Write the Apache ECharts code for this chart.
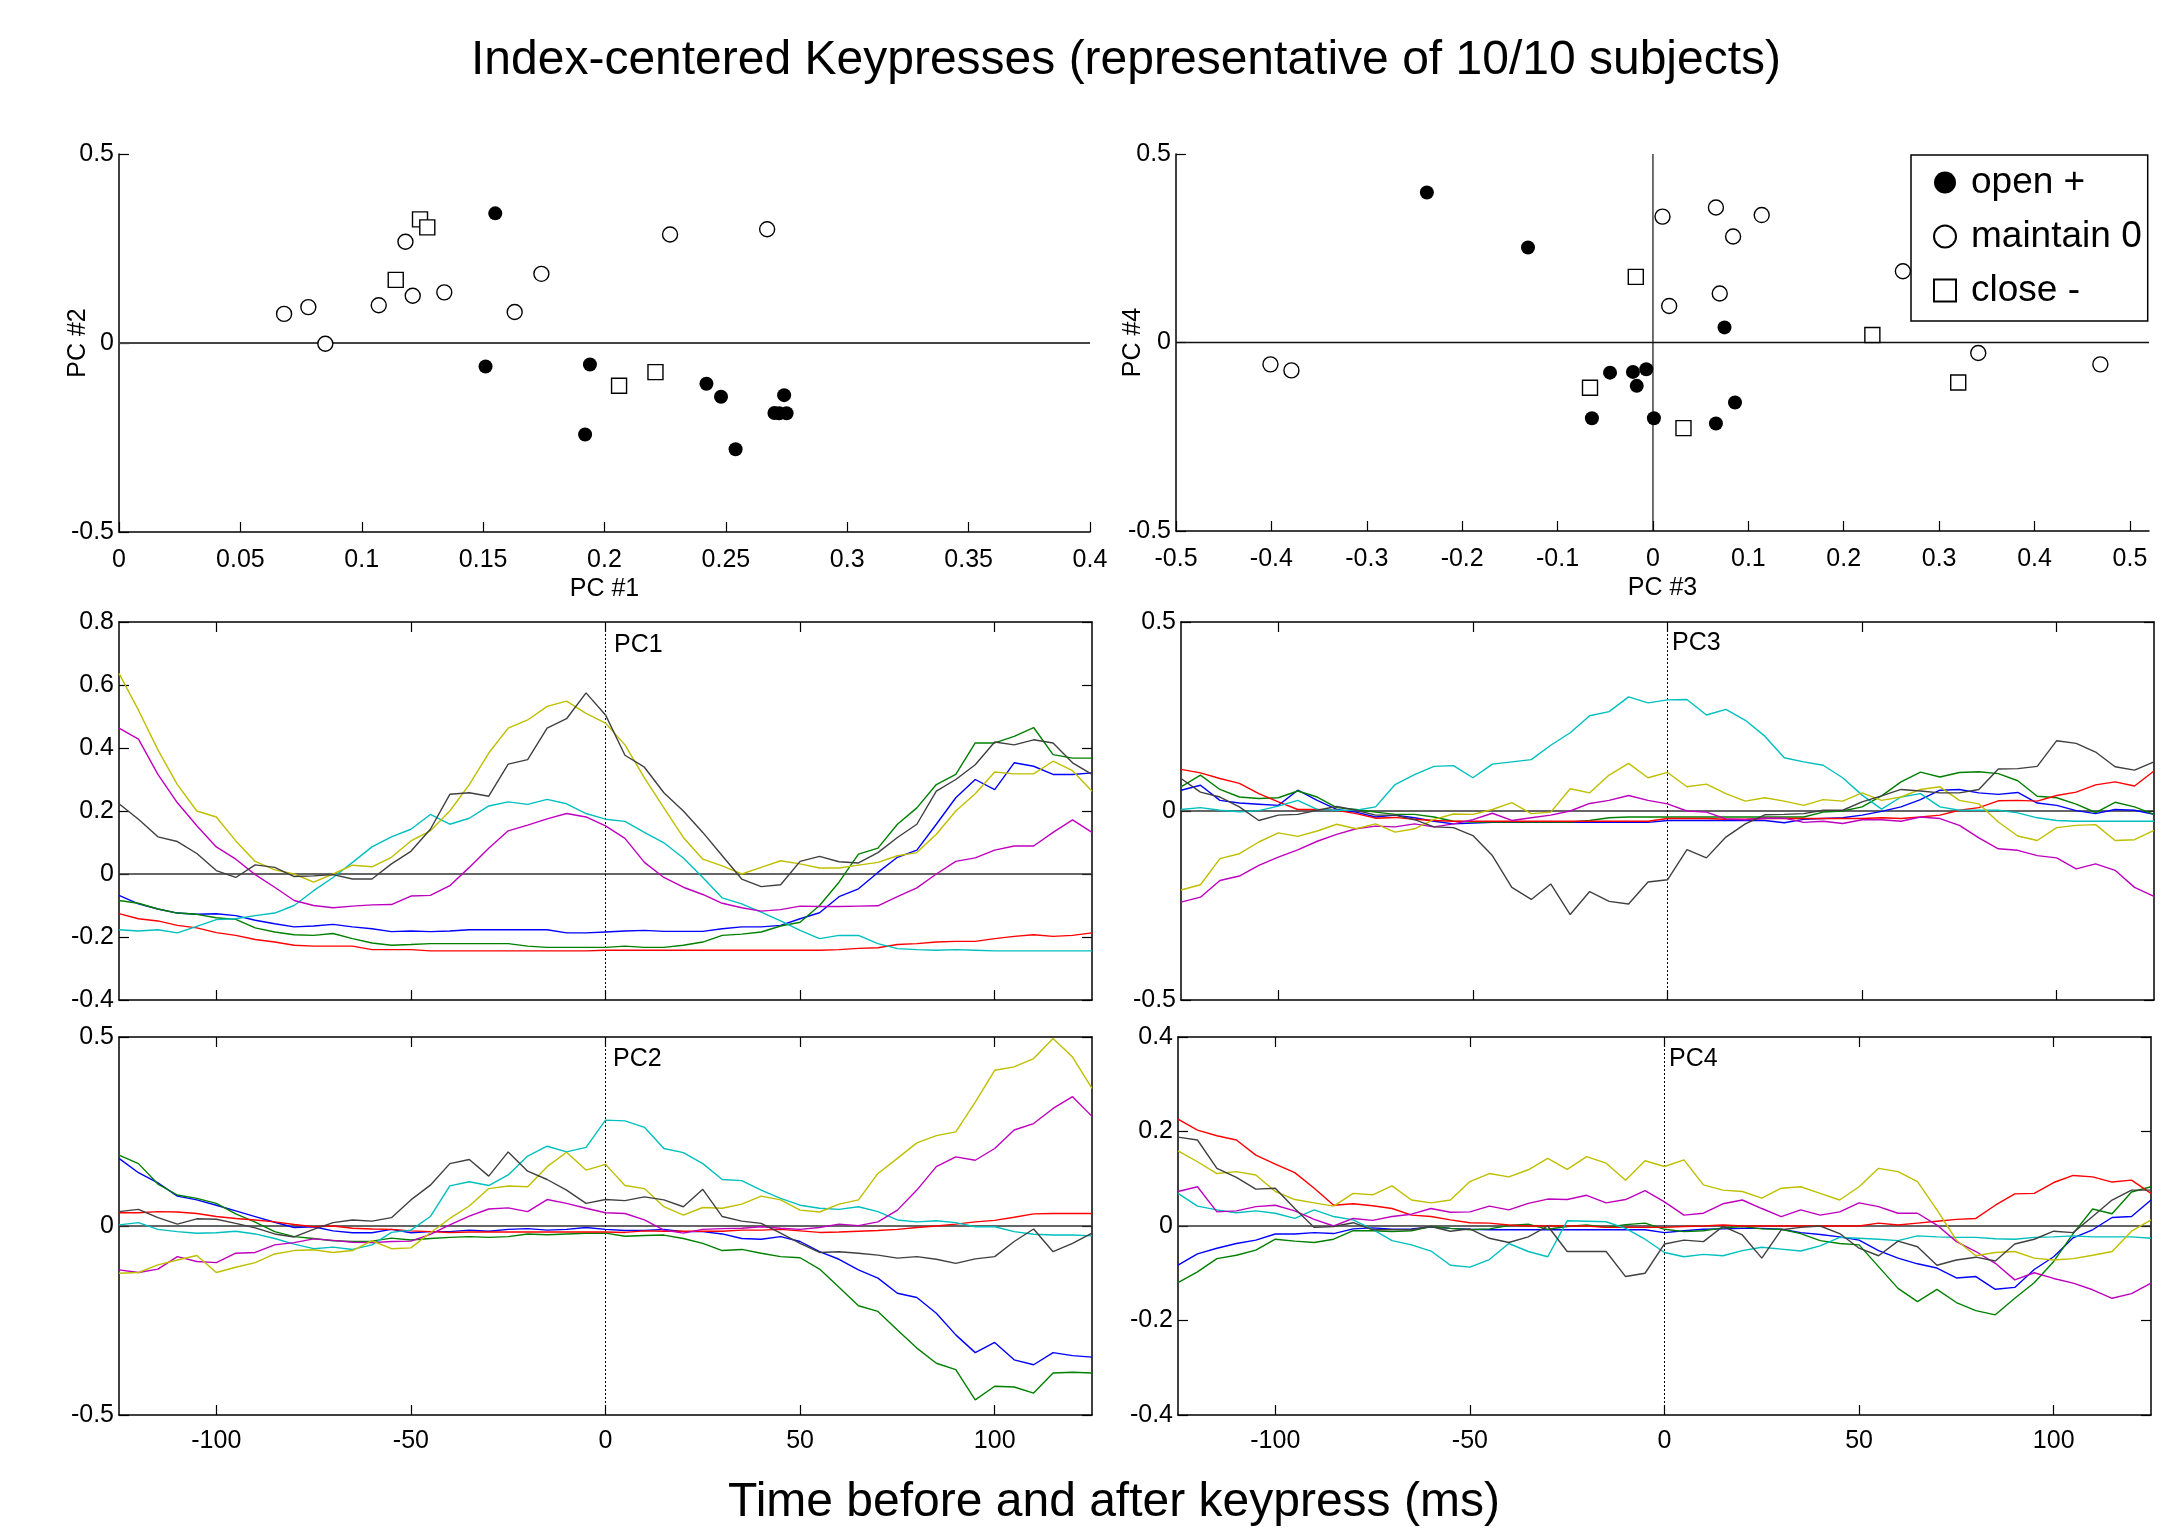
<!DOCTYPE html>
<html>
<head>
<meta charset="utf-8">
<title>Index-centered Keypresses</title>
<script src="https://cdn.jsdelivr.net/npm/echarts@6.0.0/dist/echarts.min.js"></script>
<style>
  html, body { margin: 0; padding: 0; background: #fff; }
  #chart { width: 2174px; height: 1530px; }
</style>
</head>
<body>
<div id="chart"></div>
<script>
const FONT = 'Liberation Sans, Arial, Helvetica, sans-serif';

// scatter: PC #1 vs PC #2
const openPc12 = [[0.155, 0.343], [0.151, -0.062], [0.194, -0.057], [0.192, -0.242], [0.242, -0.108], [0.248, -0.142], [0.274, -0.138], [0.270, -0.185], [0.272, -0.186], [0.275, -0.186], [0.254, -0.281]];
const maintainPc12 = [[0.068, 0.077], [0.078, 0.095], [0.085, -0.002], [0.107, 0.100], [0.118, 0.268], [0.121, 0.125], [0.134, 0.134], [0.163, 0.082], [0.174, 0.183], [0.227, 0.287], [0.267, 0.301]];
const closePc12 = [[0.124, 0.327], [0.127, 0.306], [0.114, 0.167], [0.206, -0.113], [0.221, -0.077]];

// scatter: PC #3 vs PC #4
const openPc34 = [[-0.237, 0.398], [-0.131, 0.252], [0.075, 0.040], [-0.045, -0.080], [-0.021, -0.078], [-0.007, -0.071], [-0.017, -0.115], [-0.064, -0.201], [0.001, -0.201], [0.066, -0.215], [0.086, -0.159]];
const maintainPc34 = [[-0.401, -0.058], [-0.379, -0.074], [0.010, 0.334], [0.066, 0.358], [0.114, 0.338], [0.084, 0.281], [0.070, 0.130], [0.017, 0.097], [0.262, 0.189], [0.341, -0.028], [0.469, -0.058]];
const closePc34 = [[-0.018, 0.174], [0.230, 0.020], [-0.066, -0.120], [0.032, -0.227], [0.320, -0.106]];

// time (ms) for the component traces
const timeMs = [-125, -120, -115, -110, -105, -100, -95, -90, -85, -80, -75, -70, -65, -60, -55, -50, -45, -40, -35, -30, -25, -20, -15, -10, -5, 0, 5, 10, 15, 20, 25, 30, 35, 40, 45, 50, 55, 60, 65, 70, 75, 80, 85, 90, 95, 100, 105, 110, 115, 120, 125];
const timeTicks = [-100, -50, 0, 50, 100];
const pc3Ticks = [-0.5, -0.4, -0.3, -0.2, -0.1, 0, 0.1, 0.2, 0.3, 0.4, 0.5];

const pc1Blue = [-0.068, -0.095, -0.111, -0.124, -0.128, -0.126, -0.132, -0.147, -0.158, -0.168, -0.165, -0.16, -0.168, -0.174, -0.183, -0.181, -0.183, -0.181, -0.177, -0.177, -0.177, -0.177, -0.177, -0.187, -0.187, -0.184, -0.181, -0.179, -0.182, -0.182, -0.182, -0.174, -0.168, -0.168, -0.163, -0.142, -0.123, -0.072, -0.047, 0.005, 0.053, 0.076, 0.158, 0.242, 0.3, 0.268, 0.353, 0.342, 0.316, 0.316, 0.321];
const pc1Green = [-0.084, -0.093, -0.111, -0.124, -0.128, -0.139, -0.144, -0.171, -0.184, -0.193, -0.195, -0.189, -0.205, -0.219, -0.226, -0.224, -0.221, -0.221, -0.221, -0.221, -0.221, -0.229, -0.233, -0.233, -0.233, -0.233, -0.229, -0.233, -0.233, -0.226, -0.216, -0.195, -0.191, -0.184, -0.165, -0.153, -0.1, -0.026, 0.063, 0.082, 0.158, 0.21, 0.284, 0.316, 0.416, 0.416, 0.437, 0.465, 0.379, 0.368, 0.368];
const pc1Red = [-0.126, -0.142, -0.149, -0.163, -0.171, -0.186, -0.195, -0.208, -0.216, -0.226, -0.229, -0.229, -0.229, -0.24, -0.24, -0.24, -0.244, -0.244, -0.244, -0.244, -0.244, -0.244, -0.244, -0.244, -0.244, -0.242, -0.242, -0.242, -0.242, -0.242, -0.242, -0.242, -0.242, -0.242, -0.242, -0.242, -0.242, -0.24, -0.236, -0.234, -0.224, -0.221, -0.216, -0.214, -0.214, -0.205, -0.198, -0.193, -0.198, -0.195, -0.187];
const pc1Cyan = [-0.177, -0.181, -0.177, -0.187, -0.166, -0.145, -0.142, -0.132, -0.124, -0.1, -0.053, -0.011, 0.037, 0.086, 0.118, 0.142, 0.189, 0.158, 0.177, 0.216, 0.229, 0.221, 0.237, 0.223, 0.192, 0.174, 0.167, 0.132, 0.099, 0.051, -0.011, -0.076, -0.095, -0.121, -0.149, -0.179, -0.205, -0.195, -0.195, -0.221, -0.237, -0.24, -0.242, -0.24, -0.242, -0.244, -0.244, -0.244, -0.244, -0.244, -0.244];
const pc1Magenta = [0.463, 0.428, 0.316, 0.226, 0.153, 0.086, 0.047, -0.002, -0.042, -0.084, -0.1, -0.107, -0.102, -0.098, -0.097, -0.07, -0.068, -0.037, 0.021, 0.082, 0.137, 0.155, 0.175, 0.192, 0.181, 0.153, 0.113, 0.037, -0.011, -0.042, -0.065, -0.093, -0.107, -0.118, -0.113, -0.102, -0.103, -0.103, -0.102, -0.101, -0.072, -0.044, 0.0, 0.04, 0.051, 0.076, 0.089, 0.089, 0.132, 0.172, 0.132];
const pc1Yellow = [0.637, 0.52, 0.394, 0.284, 0.2, 0.181, 0.105, 0.04, 0.013, 0.0, -0.026, 0.0, 0.028, 0.023, 0.053, 0.105, 0.137, 0.2, 0.284, 0.384, 0.463, 0.489, 0.532, 0.549, 0.51, 0.479, 0.41, 0.305, 0.21, 0.116, 0.047, 0.026, 0.0, 0.021, 0.042, 0.032, 0.019, 0.019, 0.028, 0.037, 0.058, 0.068, 0.126, 0.2, 0.255, 0.324, 0.318, 0.318, 0.358, 0.328, 0.263];
const pc1Black = [0.223, 0.174, 0.118, 0.103, 0.065, 0.011, -0.011, 0.029, 0.021, -0.008, -0.006, -0.002, -0.016, -0.016, 0.032, 0.072, 0.142, 0.253, 0.258, 0.247, 0.349, 0.363, 0.463, 0.493, 0.575, 0.505, 0.377, 0.339, 0.258, 0.2, 0.132, 0.058, -0.016, -0.04, -0.034, 0.04, 0.056, 0.039, 0.035, 0.068, 0.116, 0.158, 0.263, 0.3, 0.347, 0.419, 0.41, 0.426, 0.416, 0.353, 0.316];

const pc2Blue = [0.179, 0.141, 0.114, 0.079, 0.069, 0.055, 0.04, 0.025, 0.01, -0.004, -0.002, -0.013, -0.018, -0.018, -0.009, -0.018, -0.015, -0.015, -0.011, -0.014, -0.009, -0.007, -0.011, -0.009, -0.004, -0.009, -0.012, -0.012, -0.009, -0.015, -0.015, -0.021, -0.033, -0.035, -0.028, -0.041, -0.068, -0.088, -0.116, -0.138, -0.178, -0.189, -0.231, -0.288, -0.335, -0.308, -0.354, -0.367, -0.335, -0.343, -0.347];
const pc2Green = [0.1875, 0.165, 0.111, 0.082, 0.073, 0.06, 0.032, 0.01, -0.015, -0.028, -0.033, -0.039, -0.041, -0.04, -0.032, -0.037, -0.033, -0.03, -0.028, -0.03, -0.028, -0.021, -0.023, -0.021, -0.019, -0.019, -0.027, -0.025, -0.024, -0.033, -0.046, -0.065, -0.062, -0.072, -0.081, -0.084, -0.114, -0.162, -0.211, -0.226, -0.275, -0.323, -0.363, -0.38, -0.46, -0.424, -0.426, -0.442, -0.389, -0.387, -0.389];
const pc2Red = [0.035, 0.035, 0.038, 0.037, 0.033, 0.025, 0.02, 0.016, 0.011, 0.004, -0.002, 0.0, -0.006, -0.008, -0.009, -0.013, -0.015, -0.017, -0.016, -0.016, -0.016, -0.016, -0.016, -0.016, -0.016, -0.016, -0.017, -0.013, -0.014, -0.014, -0.014, -0.014, -0.011, -0.011, -0.009, -0.013, -0.017, -0.016, -0.014, -0.012, -0.009, -0.004, 0.0, 0.005, 0.011, 0.015, 0.023, 0.032, 0.033, 0.033, 0.033];
const pc2Cyan = [0.003, 0.009, -0.009, -0.015, -0.019, -0.018, -0.014, -0.021, -0.033, -0.048, -0.06, -0.056, -0.062, -0.05, -0.017, -0.011, 0.025, 0.106, 0.117, 0.107, 0.135, 0.185, 0.211, 0.196, 0.208, 0.28, 0.278, 0.261, 0.205, 0.194, 0.165, 0.123, 0.12, 0.095, 0.073, 0.055, 0.047, 0.044, 0.051, 0.038, 0.016, 0.011, 0.014, 0.009, -0.002, -0.002, -0.015, -0.022, -0.024, -0.024, -0.026];
const pc2Magenta = [-0.116, -0.123, -0.114, -0.081, -0.094, -0.097, -0.072, -0.07, -0.05, -0.044, -0.034, -0.038, -0.043, -0.044, -0.041, -0.04, -0.022, 0.003, 0.026, 0.045, 0.048, 0.038, 0.07, 0.06, 0.047, 0.035, 0.033, 0.016, -0.011, -0.019, -0.009, -0.007, -0.006, -0.002, -0.006, -0.009, -0.004, 0.005, 0.001, 0.011, 0.042, 0.095, 0.157, 0.183, 0.174, 0.205, 0.254, 0.271, 0.311, 0.342, 0.29];
const pc2Yellow = [-0.125, -0.123, -0.103, -0.09, -0.078, -0.123, -0.109, -0.097, -0.074, -0.065, -0.063, -0.07, -0.065, -0.039, -0.06, -0.058, -0.018, 0.02, 0.053, 0.099, 0.106, 0.104, 0.157, 0.195, 0.148, 0.163, 0.107, 0.099, 0.051, 0.029, 0.049, 0.047, 0.058, 0.079, 0.069, 0.042, 0.037, 0.058, 0.069, 0.139, 0.179, 0.22, 0.239, 0.249, 0.328, 0.412, 0.421, 0.443, 0.496, 0.447, 0.364];
const pc2Black = [0.038, 0.044, 0.022, 0.005, 0.019, 0.018, 0.007, -0.005, -0.021, -0.029, -0.009, 0.009, 0.016, 0.013, 0.022, 0.069, 0.108, 0.165, 0.176, 0.132, 0.196, 0.145, 0.123, 0.095, 0.06, 0.07, 0.067, 0.077, 0.069, 0.051, 0.097, 0.025, 0.013, 0.007, -0.019, -0.046, -0.07, -0.068, -0.072, -0.077, -0.085, -0.081, -0.088, -0.099, -0.087, -0.081, -0.041, -0.008, -0.068, -0.046, -0.019];

const pc3Blue = [0.055, 0.068, 0.028, 0.021, 0.018, 0.015, 0.055, 0.028, 0.004, -0.003, -0.016, -0.011, -0.018, -0.027, -0.034, -0.032, -0.03, -0.03, -0.03, -0.03, -0.03, -0.03, -0.03, -0.03, -0.03, -0.025, -0.025, -0.025, -0.025, -0.025, -0.025, -0.031, -0.022, -0.02, -0.018, -0.011, -0.001, 0.011, 0.03, 0.055, 0.057, 0.048, 0.044, 0.049, 0.021, 0.015, 0.001, -0.007, 0.004, 0.002, -0.009];
const pc3Green = [0.064, 0.095, 0.057, 0.037, 0.033, 0.035, 0.053, 0.037, 0.009, 0.004, -0.003, -0.009, -0.009, -0.016, -0.027, -0.029, -0.029, -0.029, -0.029, -0.029, -0.029, -0.025, -0.018, -0.016, -0.016, -0.016, -0.016, -0.016, -0.016, -0.016, -0.016, -0.016, -0.016, -0.003, 0.0, 0.011, 0.04, 0.077, 0.103, 0.09, 0.102, 0.104, 0.099, 0.08, 0.039, 0.035, 0.018, -0.004, 0.023, 0.011, -0.009];
const pc3Red = [0.11, 0.101, 0.086, 0.073, 0.046, 0.024, 0.004, 0.004, 0.002, -0.007, -0.019, -0.017, -0.022, -0.025, -0.027, -0.027, -0.027, -0.027, -0.027, -0.027, -0.027, -0.027, -0.027, -0.027, -0.027, -0.02, -0.02, -0.02, -0.022, -0.022, -0.02, -0.02, -0.02, -0.02, -0.02, -0.02, -0.018, -0.02, -0.016, -0.011, 0.002, 0.009, 0.027, 0.028, 0.026, 0.041, 0.05, 0.069, 0.077, 0.066, 0.106];
const pc3Cyan = [0.004, 0.009, 0.002, -0.002, 0.001, 0.013, 0.028, 0.004, 0.002, 0.002, 0.011, 0.07, 0.096, 0.118, 0.12, 0.088, 0.124, 0.13, 0.136, 0.174, 0.207, 0.252, 0.263, 0.302, 0.286, 0.294, 0.295, 0.254, 0.269, 0.24, 0.198, 0.141, 0.13, 0.121, 0.088, 0.042, 0.005, 0.037, 0.046, 0.011, 0.002, 0.002, 0.002, -0.005, -0.018, -0.025, -0.027, -0.027, -0.027, -0.027, -0.027];
const pc3Magenta = [-0.241, -0.228, -0.184, -0.172, -0.144, -0.122, -0.103, -0.08, -0.062, -0.047, -0.04, -0.042, -0.034, -0.042, -0.034, -0.023, -0.006, -0.025, -0.018, -0.011, 0.0, 0.02, 0.028, 0.041, 0.028, 0.019, 0.0, -0.003, -0.021, -0.023, -0.019, -0.019, -0.03, -0.027, -0.033, -0.023, -0.023, -0.027, -0.016, -0.02, -0.038, -0.071, -0.1, -0.104, -0.118, -0.124, -0.153, -0.14, -0.157, -0.202, -0.226];
const pc3Yellow = [-0.209, -0.195, -0.126, -0.113, -0.082, -0.058, -0.067, -0.053, -0.035, -0.047, -0.034, -0.056, -0.047, -0.022, -0.008, -0.009, 0.004, 0.022, -0.007, -0.003, 0.059, 0.048, 0.095, 0.126, 0.088, 0.102, 0.064, 0.071, 0.046, 0.026, 0.035, 0.026, 0.015, 0.03, 0.026, 0.048, 0.028, 0.037, 0.057, 0.064, 0.028, 0.019, -0.029, -0.066, -0.078, -0.044, -0.038, -0.036, -0.078, -0.076, -0.051];
const pc3Black = [0.086, 0.05, 0.037, 0.011, -0.025, -0.011, -0.009, 0.002, 0.012, 0.002, -0.011, -0.011, -0.023, -0.042, -0.044, -0.065, -0.118, -0.202, -0.234, -0.193, -0.274, -0.213, -0.239, -0.246, -0.188, -0.182, -0.102, -0.124, -0.069, -0.034, -0.01, -0.009, -0.007, 0.002, 0.002, 0.024, 0.04, 0.057, 0.053, 0.048, 0.048, 0.057, 0.111, 0.112, 0.118, 0.186, 0.179, 0.156, 0.117, 0.108, 0.13];

const pc4Blue = [-0.083, -0.059, -0.047, -0.037, -0.03, -0.017, -0.017, -0.014, -0.016, -0.006, -0.004, -0.007, -0.006, -0.002, -0.005, -0.007, -0.008, -0.008, -0.008, -0.008, -0.008, -0.008, -0.008, -0.008, -0.008, -0.014, -0.01, -0.007, -0.006, -0.005, -0.005, -0.007, -0.014, -0.018, -0.023, -0.03, -0.052, -0.068, -0.08, -0.089, -0.11, -0.107, -0.134, -0.13, -0.092, -0.065, -0.025, -0.008, 0.018, 0.02, 0.055];
const pc4Green = [-0.12, -0.097, -0.069, -0.062, -0.051, -0.028, -0.032, -0.035, -0.028, -0.01, -0.01, -0.012, -0.01, -0.001, -0.005, -0.008, -0.006, 0.001, 0.004, -0.007, -0.001, 0.002, -0.003, 0.003, 0.006, -0.007, -0.012, -0.01, -0.004, -0.001, -0.006, -0.007, -0.016, -0.031, -0.037, -0.04, -0.086, -0.132, -0.16, -0.134, -0.162, -0.179, -0.188, -0.153, -0.12, -0.075, -0.016, 0.036, 0.026, 0.072, 0.083];
const pc4Red = [0.226, 0.203, 0.191, 0.182, 0.15, 0.131, 0.113, 0.08, 0.044, 0.047, 0.043, 0.037, 0.023, 0.02, 0.013, 0.007, 0.006, 0.002, 0.0, 0.0, 0.0, 0.0, -0.003, -0.003, -0.003, -0.003, -0.001, 0.0, 0.002, 0.0, 0.0, 0.0, 0.0, 0.0, 0.0, 0.0, 0.006, 0.002, 0.006, 0.01, 0.014, 0.016, 0.044, 0.068, 0.069, 0.092, 0.107, 0.104, 0.093, 0.097, 0.069];
const pc4Cyan = [0.069, 0.042, 0.034, 0.028, 0.032, 0.027, 0.016, 0.034, 0.02, 0.013, -0.007, -0.031, -0.04, -0.053, -0.083, -0.087, -0.071, -0.037, -0.054, -0.065, 0.011, 0.01, 0.009, -0.005, -0.028, -0.056, -0.065, -0.06, -0.063, -0.052, -0.045, -0.049, -0.053, -0.042, -0.024, -0.026, -0.028, -0.031, -0.021, -0.023, -0.024, -0.024, -0.027, -0.028, -0.024, -0.023, -0.021, -0.023, -0.023, -0.023, -0.026];
const pc4Magenta = [0.073, 0.083, 0.03, 0.032, 0.041, 0.044, 0.032, 0.014, 0.0, 0.016, 0.012, 0.02, 0.025, 0.037, 0.029, 0.03, 0.042, 0.034, 0.048, 0.057, 0.056, 0.065, 0.049, 0.056, 0.075, 0.051, 0.023, 0.027, 0.047, 0.055, 0.037, 0.02, 0.034, 0.023, 0.03, 0.049, 0.041, 0.027, 0.027, 0.002, -0.033, -0.054, -0.079, -0.114, -0.099, -0.111, -0.121, -0.135, -0.153, -0.143, -0.121];
const pc4Yellow = [0.159, 0.136, 0.111, 0.115, 0.108, 0.073, 0.056, 0.049, 0.042, 0.069, 0.066, 0.085, 0.055, 0.049, 0.055, 0.094, 0.111, 0.104, 0.119, 0.143, 0.12, 0.147, 0.133, 0.097, 0.138, 0.126, 0.14, 0.087, 0.076, 0.073, 0.059, 0.08, 0.083, 0.069, 0.055, 0.083, 0.122, 0.115, 0.094, 0.034, -0.03, -0.063, -0.056, -0.054, -0.068, -0.072, -0.069, -0.062, -0.054, -0.011, 0.013];
const pc4Black = [0.188, 0.182, 0.122, 0.103, 0.078, 0.08, 0.037, -0.003, -0.001, 0.007, -0.008, -0.008, -0.008, -0.001, -0.011, -0.006, -0.026, -0.035, -0.023, 0.0, -0.054, -0.054, -0.054, -0.107, -0.1, -0.038, -0.03, -0.033, -0.001, -0.019, -0.068, -0.008, -0.003, 0.0, -0.016, -0.047, -0.063, -0.032, -0.044, -0.083, -0.072, -0.066, -0.074, -0.038, -0.028, -0.011, -0.014, 0.02, 0.055, 0.076, 0.076];

const lineColors = ['#0000ff', '#008000', '#ff0000', '#00bfbf', '#bf00bf', '#bfbf00', '#404040'];

// four trace panels: grid index, label, y range
const panels = [
  { grid: 2, label: 'PC1', yMin: -0.4, yMax: 0.8, step: 0.2, bottomLabels: false, traces: [pc1Blue, pc1Green, pc1Red, pc1Cyan, pc1Magenta, pc1Yellow, pc1Black] },
  { grid: 3, label: 'PC3', yMin: -0.5, yMax: 0.5, step: 0.5, bottomLabels: false, traces: [pc3Blue, pc3Green, pc3Red, pc3Cyan, pc3Magenta, pc3Yellow, pc3Black] },
  { grid: 4, label: 'PC2', yMin: -0.5, yMax: 0.5, step: 0.5, bottomLabels: true, traces: [pc2Blue, pc2Green, pc2Red, pc2Cyan, pc2Magenta, pc2Yellow, pc2Black] },
  { grid: 5, label: 'PC4', yMin: -0.4, yMax: 0.4, step: 0.2, bottomLabels: true, traces: [pc4Blue, pc4Green, pc4Red, pc4Cyan, pc4Magenta, pc4Yellow, pc4Black] }
];

const grids = [
  { left: 119, top: 154, width: 971, height: 378 },
  { left: 1176, top: 154, width: 973, height: 377 },
  { left: 119, top: 622, width: 973, height: 378 },
  { left: 1181, top: 622, width: 973, height: 378 },
  { left: 119, top: 1037, width: 973, height: 378 },
  { left: 1178, top: 1037, width: 973, height: 378 }
];

const labelText = { color: '#000', fontSize: 25, fontFamily: FONT };

function axis(o) {
  const a = {
    type: 'value',
    gridIndex: o.grid,
    min: o.min,
    max: o.max,
    position: o.position,
    axisLine: { show: true, onZero: false, lineStyle: { color: '#000', width: 1.5 } },
    axisTick: { show: true, inside: true, length: 10, lineStyle: { color: '#000', width: 1.2 } },
    axisLabel: Object.assign({ show: !!o.labels, margin: o.margin || 6, formatter: v => String(parseFloat(v.toFixed(3))) }, labelText),
    splitLine: { show: false }
  };
  if (o.interval) a.interval = o.interval;
  if (o.custom) {
    a.axisTick.customValues = o.custom;
    a.axisLabel.customValues = o.custom;
  }
  if (o.name) {
    a.name = o.name;
    a.nameLocation = 'middle';
    a.nameGap = o.nameGap;
    a.nameMoveOverlap = false;
    a.nameTextStyle = Object.assign({}, labelText);
  }
  return a;
}

const xAxes = [
  axis({ grid: 0, min: 0, max: 0.4, interval: 0.05, position: 'bottom', labels: true, margin: 16, name: 'PC #1', nameGap: 45 }),
  axis({ grid: 1, min: -0.5, max: 0.52, custom: pc3Ticks, position: 'bottom', labels: true, margin: 16, name: 'PC #3', nameGap: 45 })
];
const yAxes = [
  axis({ grid: 0, min: -0.5, max: 0.5, interval: 0.5, position: 'left', labels: true, margin: 5, name: 'PC #2', nameGap: 28 }),
  axis({ grid: 1, min: -0.5, max: 0.5, interval: 0.5, position: 'left', labels: true, margin: 5, name: 'PC #4', nameGap: 30 })
];

const series = [];
const refLine = (xi, yi, data, color, width, type) => ({
  type: 'line', xAxisIndex: xi, yAxisIndex: yi, data: data, symbol: 'none', silent: true,
  lineStyle: { color: color, width: width, type: type || 'solid' }, z: 1, animation: false
});

panels.forEach(p => {
  const xi = xAxes.length;
  const yi = yAxes.length;
  xAxes.push(axis({ grid: p.grid, min: -125, max: 125, custom: timeTicks, position: 'bottom', labels: p.bottomLabels, margin: 14 }));
  xAxes.push(axis({ grid: p.grid, min: -125, max: 125, custom: timeTicks, position: 'top', labels: false }));
  yAxes.push(axis({ grid: p.grid, min: p.yMin, max: p.yMax, interval: p.step, position: 'left', labels: true, margin: 5 }));
  yAxes.push(axis({ grid: p.grid, min: p.yMin, max: p.yMax, interval: p.step, position: 'right', labels: false }));

  series.push(refLine(xi, yi, [[-125, 0], [125, 0]], '#333', 1.6));
  series.push(refLine(xi, yi, [[0, p.yMin], [0, p.yMax]], '#000', 1, [2, 2]));
  p.traces.forEach((vals, k) => {
    series.push({
      type: 'line', xAxisIndex: xi, yAxisIndex: yi,
      data: timeMs.map((t, i) => [t, vals[i]]),
      symbol: 'none', showSymbol: false, silent: true, z: 2,
      lineStyle: { color: lineColors[k], width: 1.4 },
      itemStyle: { color: lineColors[k] },
      animation: false
    });
  });
});

// zero lines of the scatter plots
series.push(refLine(0, 0, [[0, 0], [0.4, 0]], '#444', 2));
series.push(refLine(1, 1, [[-0.5, 0], [0.52, 0]], '#111', 1.5));
series.push(refLine(1, 1, [[0, -0.5], [0, 0.5]], '#111', 1.2));

const openStyle = { color: '#fff', borderColor: '#000', borderWidth: 1.4, opacity: 1 };
[[0, openPc12, maintainPc12, closePc12], [1, openPc34, maintainPc34, closePc34]].forEach(([g, open, keep, close]) => {
  series.push({ type: 'scatter', name: 'open +', xAxisIndex: g, yAxisIndex: g, data: open, symbol: 'circle', symbolSize: 14, itemStyle: { color: '#000', opacity: 1 }, z: 3, animation: false });
  series.push({ type: 'scatter', name: 'maintain 0', xAxisIndex: g, yAxisIndex: g, data: keep, symbol: 'circle', symbolSize: 15, itemStyle: openStyle, z: 3, animation: false });
  series.push({ type: 'scatter', name: 'close -', xAxisIndex: g, yAxisIndex: g, data: close, symbol: 'rect', symbolSize: 15, itemStyle: openStyle, z: 3, animation: false });
});

const texts = [
  { x: 1126, y: 61, text: 'Index-centered Keypresses (representative of 10/10 subjects)', size: 48, align: 'center' },
  { x: 1114, y: 1503, text: 'Time before and after keypress (ms)', size: 48, align: 'center' },
  { x: 614, y: 645, text: 'PC1', size: 25, align: 'left' },
  { x: 1672, y: 643, text: 'PC3', size: 25, align: 'left' },
  { x: 613, y: 1059, text: 'PC2', size: 25, align: 'left' },
  { x: 1669, y: 1059, text: 'PC4', size: 25, align: 'left' }
];

const chart = echarts.init(document.getElementById('chart'), null, { renderer: 'canvas' });
chart.setOption({
  backgroundColor: '#fff',
  animation: false,
  grid: grids,
  xAxis: xAxes,
  yAxis: yAxes,
  legend: {
    data: ['open +', 'maintain 0', 'close -'],
    orient: 'vertical',
    left: 1911,
    top: 155,
    padding: [9, 6, 12, 22],
    itemGap: 17,
    itemWidth: 22,
    itemHeight: 22,
    borderColor: '#000',
    borderWidth: 1.5,
    backgroundColor: '#fff',
    selectedMode: false,
    textStyle: { color: '#000', fontSize: 37, fontFamily: FONT, padding: [0, 0, 0, 10] }
  },
  graphic: texts.map(t => ({
    type: 'text',
    x: t.x,
    y: t.y,
    silent: true,
    style: {
      text: t.text,
      fill: '#000',
      font: t.size + 'px ' + FONT,
      align: t.align,
      textAlign: t.align,
      verticalAlign: 'middle',
      textVerticalAlign: 'middle'
    }
  })),
  series: series
});
</script>
</body>
</html>
